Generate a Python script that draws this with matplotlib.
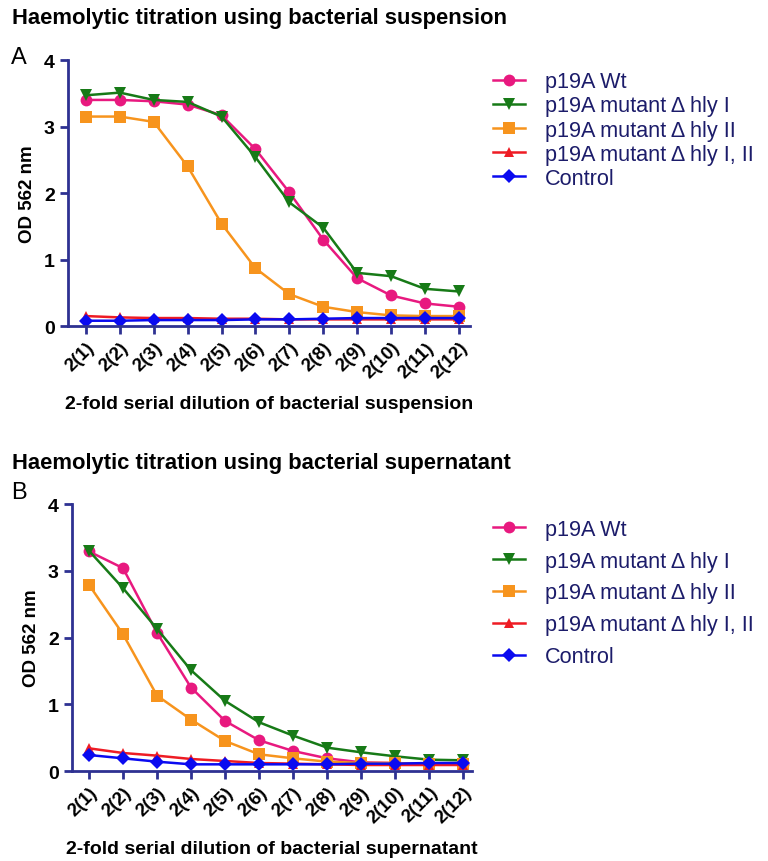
import matplotlib
matplotlib.use("Agg")
import matplotlib.pyplot as plt
import numpy as np

plt.rcParams['font.family'] = ['Liberation Sans', 'DejaVu Sans']

# dilution steps
steps = np.arange(1, 13)
step_labels = [f"2({i})" for i in steps]

series_names = ["p19A Wt", "p19A mutant \u0394 hly I", "p19A mutant \u0394 hly II",
                "p19A mutant \u0394 hly I, II", "Control"]

# A: bacterial suspension
susp_wt = [3.40, 3.40, 3.38, 3.33, 3.17, 2.66, 2.01, 1.30, 0.72, 0.46, 0.34, 0.29]
susp_hly1 = [3.47, 3.51, 3.40, 3.37, 3.15, 2.54, 1.86, 1.48, 0.80, 0.75, 0.56, 0.52]
susp_hly2 = [3.15, 3.15, 3.07, 2.40, 1.54, 0.87, 0.48, 0.29, 0.21, 0.16, 0.15, 0.15]
susp_hly12 = [0.15, 0.13, 0.12, 0.12, 0.11, 0.11, 0.10, 0.10, 0.10, 0.10, 0.10, 0.10]
susp_ctrl = [0.08, 0.08, 0.09, 0.09, 0.09, 0.10, 0.10, 0.11, 0.12, 0.12, 0.12, 0.12]

# B: bacterial supernatant
sup_wt = [3.29, 3.04, 2.07, 1.25, 0.75, 0.46, 0.30, 0.19, 0.13, 0.12, 0.10, 0.10]
sup_hly1 = [3.30, 2.74, 2.13, 1.51, 1.05, 0.73, 0.53, 0.35, 0.28, 0.22, 0.17, 0.16]
sup_hly2 = [2.79, 2.05, 1.13, 0.77, 0.45, 0.25, 0.19, 0.14, 0.12, 0.12, 0.10, 0.10]
sup_hly12 = [0.34, 0.27, 0.23, 0.18, 0.15, 0.12, 0.11, 0.10, 0.09, 0.09, 0.09, 0.09]
sup_ctrl = [0.24, 0.19, 0.14, 0.10, 0.10, 0.10, 0.10, 0.10, 0.11, 0.11, 0.12, 0.12]

colors = ["#e8197f", "#177a17", "#f7941d", "#ee1c24", "#0a0af0"]
markers = ["o", "v", "s", "^", "D"]
msizes = [8.5, 9, 8.5, 7.5, 7.5]
navy = "#2e3192"
textnavy = "#1c1c6a"


def panel(ax, data, xlab, xlim):
    handles = []
    for vals, c, m, ms in zip(data, colors, markers, msizes):
        h, = ax.plot(steps, vals, color=c, marker=m, markersize=ms, lw=1.8,
                     markeredgewidth=0)
        handles.append(h)
    ax.set_xlim(*xlim)
    ax.set_ylim(0, 4)
    ax.set_yticks([0, 1, 2, 3, 4])
    ax.set_xticks(steps)
    ax.set_xticklabels(step_labels, rotation=45, ha="right", rotation_mode="anchor",
                       fontsize=13.5, fontweight="bold")
    for t in ax.get_yticklabels():
        t.set_fontweight("bold")
        t.set_fontsize(14)
    for s in ["top", "right"]:
        ax.spines[s].set_visible(False)
    for s in ["left", "bottom"]:
        ax.spines[s].set_color(navy)
        ax.spines[s].set_linewidth(2)
    ax.tick_params(axis="both", colors=navy, width=2, length=6, labelcolor="black")
    ax.tick_params(axis="x", pad=3)
    ax.set_ylabel("OD 562 nm", fontsize=13.5, fontweight="bold", labelpad=6)
    ax.set_xlabel(xlab, fontsize=14, fontweight="bold", labelpad=10)
    return handles


fig = plt.figure(figsize=(7.68, 8.62), dpi=100)

axA = fig.add_axes([0.0885, 0.6206, 0.523, 0.3086])
hA = panel(axA, [susp_wt, susp_hly1, susp_hly2, susp_hly12, susp_ctrl],
           "2-fold serial dilution of bacterial suspension", (0.47, 12.32))

axB = fig.add_axes([0.0937, 0.1044, 0.521, 0.3097])
hB = panel(axB, [sup_wt, sup_hly1, sup_hly2, sup_hly12, sup_ctrl],
           "2-fold serial dilution of bacterial supernatant", (0.5, 12.26))

fig.text(0.016, 0.979, "Haemolytic titration using bacterial suspension",
         fontsize=15.8, fontweight="bold", va="center")
fig.text(0.014, 0.933, "A", fontsize=17, va="center")
fig.text(0.016, 0.462, "Haemolytic titration using bacterial supernatant",
         fontsize=15.8, fontweight="bold", va="center")
fig.text(0.014, 0.428, "B", fontsize=17, va="center")

legA = fig.legend(hA, series_names, loc="upper left", bbox_to_anchor=(0.63, 0.926),
                  frameon=False, fontsize=15.6, handlelength=1.5, labelspacing=0.14,
                  handletextpad=0.9, borderaxespad=0)
legB = fig.legend(hB, series_names, loc="upper left", bbox_to_anchor=(0.63, 0.407),
                  frameon=False, fontsize=15.6, handlelength=1.5, labelspacing=0.5,
                  handletextpad=0.9, borderaxespad=0)
for leg in (legA, legB):
    for t in leg.get_texts():
        t.set_color(textnavy)

fig.savefig("out.png", dpi=100)
